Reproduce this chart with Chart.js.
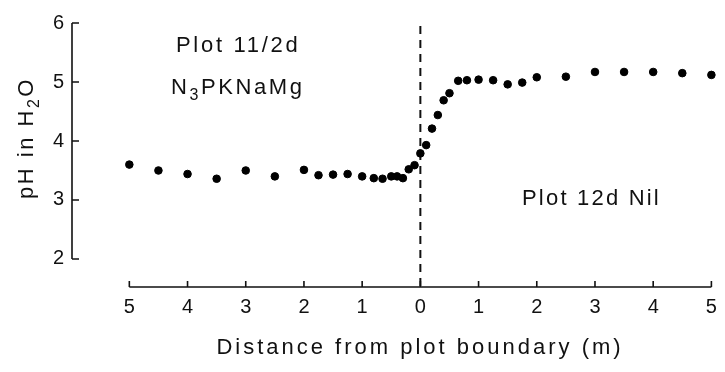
<!DOCTYPE html>
<html>
<head>
<meta charset="utf-8">
<script src="https://cdn.jsdelivr.net/npm/chart.js@4.4.1/dist/chart.umd.min.js"></script>
<style>
  html, body { margin: 0; padding: 0; background: #fff; }
  #wrap { width: 725px; height: 372px; }
</style>
</head>
<body>
<div id="wrap"><canvas id="phChart" width="725" height="372"></canvas></div>
<script>
// distance from the boundary, negative = Plot 11/2d side
const distance = [-5, -4.5, -4, -3.5, -3, -2.5, -2, -1.75, -1.5, -1.25, -1, -0.8, -0.65, -0.5, -0.4, -0.3, -0.2, -0.1,
  0, 0.1, 0.2, 0.3, 0.4, 0.5, 0.65, 0.8, 1, 1.25, 1.5, 1.75, 2, 2.5, 3, 3.5, 4, 4.5, 5];
const ph = [3.6, 3.5, 3.44, 3.36, 3.5, 3.4, 3.51, 3.42, 3.43, 3.44, 3.4, 3.37, 3.36, 3.4, 3.4, 3.37, 3.52, 3.59,
  3.79, 3.93, 4.21, 4.44, 4.69, 4.81, 5.02, 5.03, 5.04, 5.03, 4.96, 4.99, 5.08, 5.09, 5.17, 5.17, 5.17, 5.15, 5.12];
const xTicks = [-5, -4, -3, -2, -1, 0, 1, 2, 3, 4, 5];
const yTicks = [2, 3, 4, 5, 6];

const FONT = "'Liberation Sans', Arial, sans-serif";

const points = distance.map((d, i) => ({ x: d, y: ph[i] }));

// draws pieces of text where the part after a subscript index is smaller and lowered
function drawParts(ctx, parts, x, y, size, spacing) {
  let tx = x;
  parts.forEach(([txt, sub]) => {
    ctx.font = (sub ? Math.round(size * 0.72) : size) + "px " + FONT;
    ctx.letterSpacing = spacing + "px";
    ctx.fillText(txt, tx, sub ? y + size * 0.25 : y);
    tx += ctx.measureText(txt).width;
  });
  return tx - x;
}

function partsWidth(ctx, parts, size, spacing) {
  let w = 0;
  parts.forEach(([txt, sub]) => {
    ctx.font = (sub ? Math.round(size * 0.72) : size) + "px " + FONT;
    ctx.letterSpacing = spacing + "px";
    w += ctx.measureText(txt).width;
  });
  return w;
}

// axes drawn by hand: separate x and y lines with inward ticks, plus boundary line
const axesPlugin = {
  id: "axesPlugin",
  beforeDatasetsDraw(chart) {
    const { ctx, scales, chartArea } = chart;
    const x = scales.x, y = scales.y;
    ctx.save();
    ctx.strokeStyle = "#111";
    ctx.lineWidth = 1.6;
    // y axis
    const ax = chartArea.left;
    ctx.beginPath();
    ctx.moveTo(ax, y.getPixelForValue(6));
    ctx.lineTo(ax, y.getPixelForValue(2));
    yTicks.forEach((v) => {
      const py = y.getPixelForValue(v);
      ctx.moveTo(ax, py);
      ctx.lineTo(ax + 7, py);
    });
    ctx.stroke();
    // x axis
    const by = chartArea.bottom;
    ctx.beginPath();
    ctx.moveTo(x.getPixelForValue(-5), by);
    ctx.lineTo(x.getPixelForValue(5), by);
    xTicks.forEach((v) => {
      const px = x.getPixelForValue(v);
      ctx.moveTo(px, by);
      ctx.lineTo(px, by - 6);
    });
    ctx.stroke();
    // boundary
    const zx = x.getPixelForValue(0);
    ctx.setLineDash([8, 6]);
    ctx.lineWidth = 2;
    ctx.beginPath();
    ctx.moveTo(zx, y.getPixelForValue(6) + 3);
    ctx.lineTo(zx, by);
    ctx.stroke();
    ctx.setLineDash([]);

    // labels
    ctx.fillStyle = "#111";
    ctx.textBaseline = "alphabetic";
    ctx.textAlign = "left";
    drawParts(ctx, [["Plot 11/2d", false]], 176, 52, 22, 2.7);
    drawParts(ctx, [["N", false], ["3", true], ["PKNaMg", false]], 171, 94, 22, 2.6);
    drawParts(ctx, [["Plot 12d Nil", false]], 522, 205, 22, 2.2);

    // x title
    const xt = [["Distance from plot boundary (m)", false]];
    const xw = partsWidth(ctx, xt, 22, 3);
    drawParts(ctx, xt, 420 - xw / 2, 354, 22, 3);

    // y title, rotated
    const yt = [["pH in H", false], ["2", true], ["O", false]];
    const yw = partsWidth(ctx, yt, 22, 2.5);
    ctx.translate(33, 138);
    ctx.rotate(-Math.PI / 2);
    drawParts(ctx, yt, -yw / 2, 0, 22, 2.5);
    ctx.restore();
  },
};

new Chart(document.getElementById("phChart"), {
  type: "scatter",
  data: {
    datasets: [
      {
        label: "pH",
        data: points,
        backgroundColor: "#000",
        borderColor: "#000",
        pointRadius: 3.8,
        pointHoverRadius: 3.8,
      },
    ],
  },
  options: {
    responsive: false,
    animation: false,
    events: [],
    layout: { padding: { top: 23, right: 0, left: 0, bottom: 0 } },
    plugins: {
      legend: { display: false },
      tooltip: { enabled: false },
    },
    scales: {
      x: {
        type: "linear",
        min: -5.985,
        max: 5.102,
        afterBuildTicks: (s) => { s.ticks = xTicks.map((v) => ({ value: v })); },
        afterFit: (s) => { s.height = 85; },
        grid: { display: false, drawTicks: false },
        border: { display: false },
        ticks: {
          color: "#111",
          padding: 8,
          maxRotation: 0,
          font: { family: FONT, size: 20 },
          callback: (v) => Math.abs(v),
        },
      },
      y: {
        min: 1.525,
        max: 6,
        afterBuildTicks: (s) => { s.ticks = yTicks.map((v) => ({ value: v })); },
        afterFit: (s) => { s.width = 72; },
        grid: { display: false, drawTicks: false },
        border: { display: false },
        ticks: {
          color: "#111",
          padding: 8,
          font: { family: FONT, size: 20 },
        },
      },
    },
  },
  plugins: [axesPlugin],
});
</script>
</body>
</html>
